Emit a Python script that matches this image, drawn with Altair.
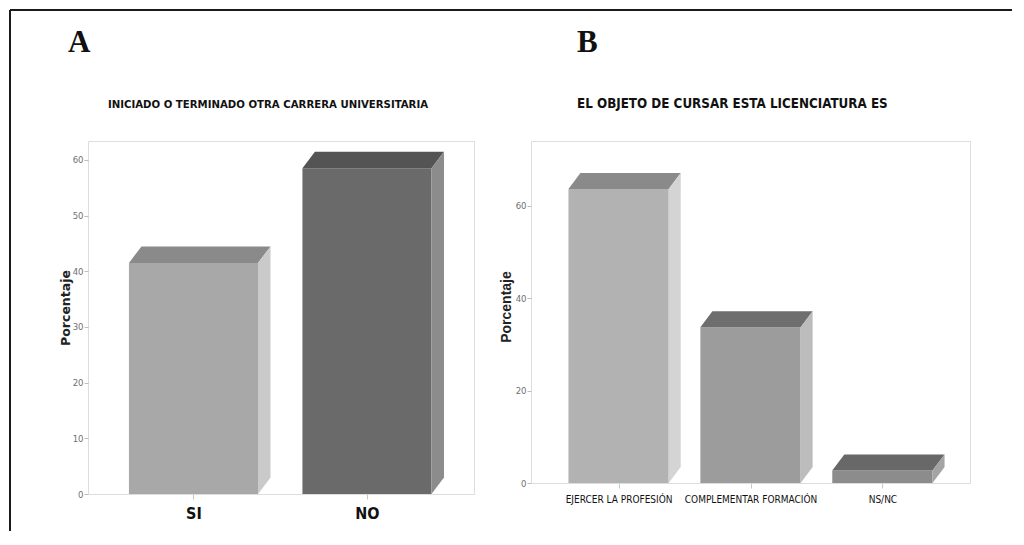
import json
import altair as alt

# ---------------- data ----------------
a_categories = ["SI", "NO"]
a_values = [41.5, 58.5]
a_title = "INICIADO O TERMINADO OTRA CARRERA UNIVERSITARIA"

b_categories = ["EJERCER LA PROFESIÓN", "COMPLEMENTAR FORMACIÓN", "NS/NC"]
b_values = [63.6, 33.7, 2.7]
b_title = "EL OBJETO DE CURSAR ESTA LICENCIATURA ES"

y_label = "Porcentaje"

# ---------------- styles ----------------
a_front = ["#a8a8a8", "#6a6a6a"]
a_top = ["#8a8a8a", "#545454"]
a_side = ["#cacaca", "#8c8c8c"]

b_front = ["#b2b2b2", "#9c9c9c", "#8c8c8c"]
b_top = ["#8a8a8a", "#6e6e6e", "#686868"]
b_side = ["#d4d4d4", "#bcbcbc", "#a4a4a4"]

NARROW = "Liberation Sans Narrow, Arial Narrow, DejaVu Sans Condensed, sans-serif"
SERIF = "Liberation Serif, DejaVu Serif, serif"


def faces(cats, vals, half, dx, dy):
    front, top, side = [], [], []
    for i, (c, v) in enumerate(zip(cats, vals)):
        L, R = i - half, i + half
        front.append({"cat": c, "x": L, "x2": R, "y": 0, "y2": v})
        for px, py, py2 in [(L, v, v), (L + dx, v, v + dy), (R, v, v + dy), (R + dx, v + dy, v + dy)]:
            top.append({"cat": c, "x": px, "y": py, "y2": py2})
        for px, py, py2 in [(R, 0, v), (R + dx, dy, v + dy)]:
            side.append({"cat": c, "x": px, "y": py, "y2": py2})
    return front, top, side


def panel(cats, vals, fronts, tops, sides, xdom, ydom, yticks, w, h,
          half, dx, dy, label_font, label_size, label_weight, label_pad,
          ytitle_x, ytitle_y, ytitle_font, ytitle_size,
          letter, letter_x, title, title_x, title_align, title_size, extras):
    front, top, side = faces(cats, vals, half, dx, dy)
    names = json.dumps(cats, ensure_ascii=False)
    xs = alt.Scale(domain=xdom, nice=False, zero=False)
    ys = alt.Scale(domain=ydom, nice=False)
    x_axis = alt.Axis(values=list(range(len(cats))), labelExpr=f"{names}[datum.value]",
                      title=None, grid=False, domain=False, ticks=True, tickSize=5,
                      tickColor="#c8c8c8", labelFont=label_font, labelFontSize=label_size,
                      labelFontWeight=label_weight, labelColor="#111", labelPadding=label_pad,
                      labelAngle=0)
    y_axis = alt.Axis(values=yticks, title=y_label, grid=False, domain=False, tickSize=4,
                      tickColor="#bdbdbd", labelFont=NARROW, labelFontSize=9.5,
                      labelColor="#707070", labelPadding=1, titleFont=ytitle_font,
                      titleFontSize=ytitle_size, titleFontWeight="bold", titleColor="#222",
                      titleX=ytitle_x, titleY=ytitle_y, titleBaseline="middle",
                      titleAngle=270, titleAlign="center")
    cscale = lambda rng: alt.Scale(domain=cats, range=rng)

    front_l = alt.Chart(alt.Data(values=front)).mark_rect().encode(
        x=alt.X("x:Q", scale=xs, axis=x_axis), x2="x2:Q",
        y=alt.Y("y:Q", scale=ys, axis=y_axis), y2="y2:Q",
        color=alt.Color("cat:N", scale=cscale(fronts), legend=None))
    top_l = alt.Chart(alt.Data(values=top)).mark_area(interpolate="linear").encode(
        x=alt.X("x:Q", scale=xs), y=alt.Y("y:Q", scale=ys, stack=None), y2="y2:Q",
        detail="cat:N",
        color=alt.Color("cat:N", scale=cscale(tops), legend=None))
    side_l = alt.Chart(alt.Data(values=side)).mark_area(interpolate="linear").encode(
        x=alt.X("x:Q", scale=xs), y=alt.Y("y:Q", scale=ys, stack=None), y2="y2:Q",
        detail="cat:N",
        color=alt.Color("cat:N", scale=cscale(sides), legend=None))
    one = alt.Data(values=[{}])
    letter_l = alt.Chart(one).mark_text(font=SERIF, fontSize=31, fontWeight="bold",
                                        align="left", baseline="alphabetic", color="#111").encode(
        x=alt.value(letter_x), y=alt.value(-89), text=alt.value(letter))
    title_l = alt.Chart(one).mark_text(font=NARROW, fontSize=title_size, fontWeight="bold",
                                       align=title_align, baseline="alphabetic", color="#111").encode(
        x=alt.value(title_x), y=alt.value(-33), text=alt.value(title))
    layers = [front_l, top_l, side_l, letter_l, title_l] + extras
    return alt.layer(*layers).resolve_scale(color="independent").properties(width=w, height=h)


one = alt.Data(values=[{}])
border_h = alt.Chart(one).mark_rule(color="#1a1a1a", strokeWidth=2).encode(
    x=alt.value(-78), x2=alt.value(924), y=alt.value(-131))
border_v = alt.Chart(one).mark_rule(color="#1a1a1a", strokeWidth=2).encode(
    x=alt.value(-78), y=alt.value(-131), y2=alt.value(390))

left = panel(a_categories, a_values, a_front, a_top, a_side,
             [-0.608, 1.617], [0, 63.4], [0, 10, 20, 30, 40, 50, 60], 386, 353,
             0.372, 0.072, 2.96, NARROW, 16, "bold", 6,
             -23, 166.5, "DejaVu Sans, sans-serif", 12.5,
             "A", -20, a_title, 180, "center", 11.3, [border_h, border_v])

right = panel(b_categories, b_values, b_front, b_top, b_side,
              [-0.664, 2.664], [0, 74.0], [0, 20, 40, 60], 439, 342,
              0.38, 0.091, 3.47, NARROW, 10, "normal", 6,
              -24.5, 165.5, "Liberation Sans, Arial, sans-serif", 14,
              "B", 46, b_title, 46, "left", 13.3, [])

chart = alt.hconcat(left, right, spacing=57, bounds="flush").configure_view(
    fill="#ebebeb", stroke="#c6c6c6", strokeWidth=1.5
).configure(background="white").properties(padding=0)

chart.save("out.html", embed_options={"renderer": "svg", "actions": False})
